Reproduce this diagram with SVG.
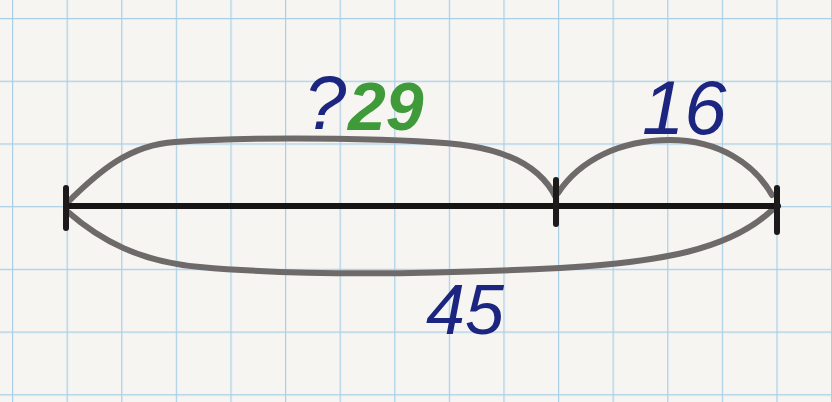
<svg xmlns="http://www.w3.org/2000/svg" width="832" height="402" viewBox="0 0 832 402">
<defs>
<pattern id="grid" x="12" y="18" width="54.6" height="62.7" patternUnits="userSpaceOnUse">
<path d="M0 0V62.7M0 0H54.6" fill="none" stroke="#a8cfe6" stroke-width="2.4"/>
</pattern>
<style>
.arc{fill:none;stroke:#6e6a6a;stroke-width:6;stroke-linecap:round;stroke-linejoin:round}
.main{fill:none;stroke:#161414;stroke-width:6;stroke-linecap:round}
.tick{fill:none;stroke:#1c1a1a;stroke-width:6;stroke-linecap:round}
.blue{fill:#1c2580;font-family:"Liberation Sans",sans-serif;font-style:italic}
.green{fill:#3f9a3a;font-family:"Liberation Sans",sans-serif;font-style:italic;font-weight:bold}
</style>
</defs>
<rect width="832" height="402" fill="#f6f5f2"/>
<rect width="832" height="402" fill="url(#grid)"/>
<g id="connectors">
<path class="arc" d="M67 203 C100 170 130 145 175 142 C260 136 420 138 470 146 C520 154 545 175 556 198"/>
<path class="arc" d="M558 193 C580 160 620 140 670 140 C720 140 755 165 772 195"/>
<path class="arc" d="M68 212 C100 240 140 262 200 267 C300 276 420 275 560 268 C660 262 730 250 772 210"/>
</g>
<g id="segment">
<path class="main" d="M66 206 H778"/>
<path class="tick" d="M66 188 V228"/>
<path class="tick" d="M556 180 V224"/>
<path class="tick" d="M777 188 V232"/>
</g>
<g id="label-q"><text class="blue" x="304" y="129" font-size="76">?</text></g>
<g id="label-29"><text class="green" x="348" y="130" font-size="68">29</text></g>
<g id="label-16"><text class="blue" x="642" y="134" font-size="76">16</text></g>
<g id="label-45"><text class="blue" x="426" y="334" font-size="70">45</text></g>
</svg>
